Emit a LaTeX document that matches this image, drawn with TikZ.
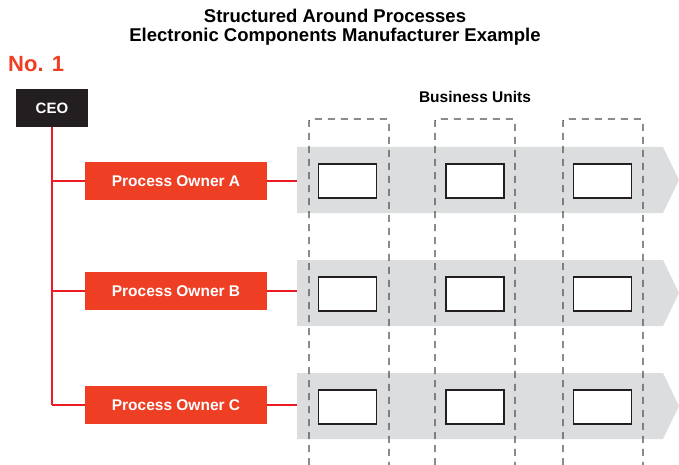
\documentclass[tikz,border=0pt]{standalone}
\usepackage{fontspec}
\setmainfont{Liberation Sans}
\definecolor{Ink}{HTML}{231F20}
\definecolor{Brick}{HTML}{EE3E24}
\definecolor{Wire}{HTML}{ED1C24}
\definecolor{Band}{HTML}{DCDDDE}
\definecolor{Dash}{HTML}{4D4D4D}
\usetikzlibrary{positioning,calc}
\tikzset{
  ceobox/.style={fill=Ink,text=white,font=\bfseries\fontsize{15}{17}\selectfont,
    minimum width=72pt,minimum height=38pt,inner sep=0pt},
  ownerbox/.style={fill=Brick,text=white,font=\bfseries\fontsize{15.5}{18}\selectfont,
    minimum width=182pt,minimum height=38pt,inner sep=0pt},
  unitbox/.style={draw=Ink,fill=white,line width=1.1pt,minimum width=58pt,
    minimum height=34pt,inner sep=0pt},
  wire/.style={Wire,line width=2pt},
  column/.style={Dash,line width=1.3pt,dash pattern=on 7pt off 6pt,rounded corners=2pt}
}

\begin{document}
\begin{tikzpicture}[x=1pt,y=-1pt]
  \useasboundingbox (0,0) rectangle (679,465);
  \node[font=\bfseries\fontsize{18.5}{19.5}\selectfont,align=center] (title) at (335,27)
    {Structured Around Processes\\Electronic Components Manufacturer Example};
  \node[anchor=base west,inner sep=0pt,text=Brick,font=\bfseries\fontsize{22}{26}\selectfont]
    (rank) at (8,72) {No. 1};
  % grey process bands with arrow tips
  \foreach \n/\y in {A/180,B/293,C/406}{
    \fill[Band] (297,\y-33) -- (663,\y-33) -- (679,\y) -- (663,\y+33) -- (297,\y+33) -- cycle;
    \coordinate (band\n) at (297,\y);
  }
  % business unit columns
  \foreach \x in {349,475,603}
    \draw[column] (\x-40,465) -- (\x-40,119) -- (\x+40,119) -- (\x+40,465);
  \node[font=\bfseries\fontsize{15.5}{18}\selectfont] (units) at (475,97) {Business Units};
  \node[ceobox] (ceo) at (52,108) {CEO};
  \foreach \n/\y in {A/181,B/291,C/405}{
    \node[ownerbox] (owner\n) at (176,\y) {Process Owner \n};
    \draw[wire] (ceo.south |- owner\n) -- (owner\n.west);
    \draw[wire] (owner\n.east) -- (owner\n.east -| band\n);
  }
  \draw[wire] (ceo.south) -- (ceo.south |- ownerC);
  % empty unit cells
  \foreach \n/\y in {A/181,B/294,C/407}
    \foreach \x [count=\i] in {347.5,475,602.5}
      \node[unitbox] (cell\n\i) at (\x,\y) {};
\end{tikzpicture}
\end{document}
